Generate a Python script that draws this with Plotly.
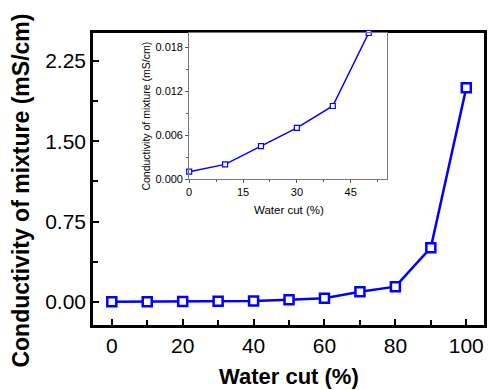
import plotly.graph_objects as go

water_cut = [0, 10, 20, 30, 40, 50, 60, 70, 80, 90, 100]
conductivity = [0.001, 0.002, 0.0045, 0.007, 0.010, 0.020, 0.035, 0.096, 0.143, 0.507, 2.0]

inset_cut = [0, 10, 20, 30, 40, 50]
inset_cond = [0.001, 0.002, 0.0045, 0.007, 0.010, 0.020]

main_xticks = [0, 20, 40, 60, 80, 100]
main_yticks = [0.0, 0.75, 1.5, 2.25]
main_ylabels = ["0.00", "0.75", "1.50", "2.25"]
inset_xticks = [0, 15, 30, 45]
inset_yticks = [0.0, 0.006, 0.012, 0.018]
inset_ylabels = ["0.000", "0.006", "0.012", "0.018"]

BLUE = "#0000ff"
FONT = "Liberation Sans, Arial, sans-serif"

fig = go.Figure()
fig.add_trace(go.Scatter(
    x=water_cut, y=conductivity, mode="lines+markers",
    line=dict(color=BLUE, width=2.5),
    marker=dict(symbol="square", size=9, color="white", line=dict(width=2.5, color=BLUE)),
    xaxis="x", yaxis="y", showlegend=False, cliponaxis=False))
fig.add_trace(go.Scatter(
    x=inset_cut, y=inset_cond, mode="lines+markers",
    line=dict(color=BLUE, width=1.5),
    marker=dict(symbol="square", size=5, color="white", line=dict(width=1.2, color=BLUE)),
    xaxis="x2", yaxis="y2", showlegend=False, cliponaxis=False))

fig.update_layout(
    width=491, height=390,
    margin=dict(l=93, r=4, t=33, b=65),
    paper_bgcolor="white", plot_bgcolor="white",
    font=dict(family=FONT, color="black"),
    xaxis=dict(domain=[0, 1], range=[-5.3, 105], tickvals=main_xticks,
               ticks="inside", ticklen=6, tickwidth=2, tickcolor="black",
               minor=dict(dtick=10, tick0=0, ticks="inside", ticklen=5, tickwidth=2, tickcolor="black"),
               showline=True, linewidth=2.5, linecolor="black", mirror=True,
               showgrid=False, zeroline=False, tickfont=dict(size=21, family=FONT)),
    yaxis=dict(domain=[0, 1], range=[-0.215, 2.51], tickvals=main_yticks, ticktext=main_ylabels,
               ticks="inside", ticklen=6, tickwidth=2, tickcolor="black",
               minor=dict(dtick=0.375, tick0=0, ticks="inside", ticklen=5, tickwidth=2, tickcolor="black"),
               showline=True, linewidth=2.5, linecolor="black", mirror=True,
               showgrid=False, zeroline=False, tickfont=dict(size=21, family=FONT)),
    xaxis2=dict(domain=[0.246, 0.751], anchor="y2", range=[0, 55], tickvals=inset_xticks,
                ticks="outside", ticklen=3, tickwidth=1, tickcolor="#555",
                minor=dict(dtick=7.5, tick0=0, ticks="outside", ticklen=2, tickwidth=1, tickcolor="#555"),
                showline=True, linewidth=1, linecolor="#777", mirror=True,
                showgrid=False, zeroline=False, tickfont=dict(size=11, family=FONT)),
    yaxis2=dict(domain=[0.5, 1.0], anchor="x2", range=[0, 0.02], tickvals=inset_yticks, ticktext=inset_ylabels,
                ticks="outside", ticklen=3, tickwidth=1, tickcolor="#555",
                minor=dict(dtick=0.003, tick0=0, ticks="outside", ticklen=2, tickwidth=1, tickcolor="#555"),
                showline=True, linewidth=1, linecolor="#777", mirror=True,
                showgrid=False, zeroline=False, tickfont=dict(size=11, family=FONT)),
)

fig.add_annotation(text="<b>Water cut (%)</b>", xref="paper", yref="paper",
                   x=(291 - 93) / 394, y=-(376 - 325) / 292, showarrow=False,
                   font=dict(size=22, family=FONT), xanchor="center", yanchor="middle")
fig.add_annotation(text="<b>Conductivity of mixture (mS/cm)</b>", xref="paper", yref="paper",
                   x=-(93 - 20) / 394, y=(325 - 191) / 292, showarrow=False, textangle=-90,
                   font=dict(size=23, family=FONT), xanchor="center", yanchor="middle")
fig.add_annotation(text="Water cut (%)", xref="paper", yref="paper",
                   x=(290 - 93) / 394, y=(325 - 210) / 292, showarrow=False,
                   font=dict(size=11.5, family=FONT), xanchor="center", yanchor="middle")
fig.add_annotation(text="Conductivity of mixture (mS/cm)", xref="paper", yref="paper",
                   x=(146 - 93) / 394, y=(325 - 116) / 292, showarrow=False, textangle=-90,
                   font=dict(size=10.5, family=FONT), xanchor="center", yanchor="middle")

fig.write_html("out.html")
